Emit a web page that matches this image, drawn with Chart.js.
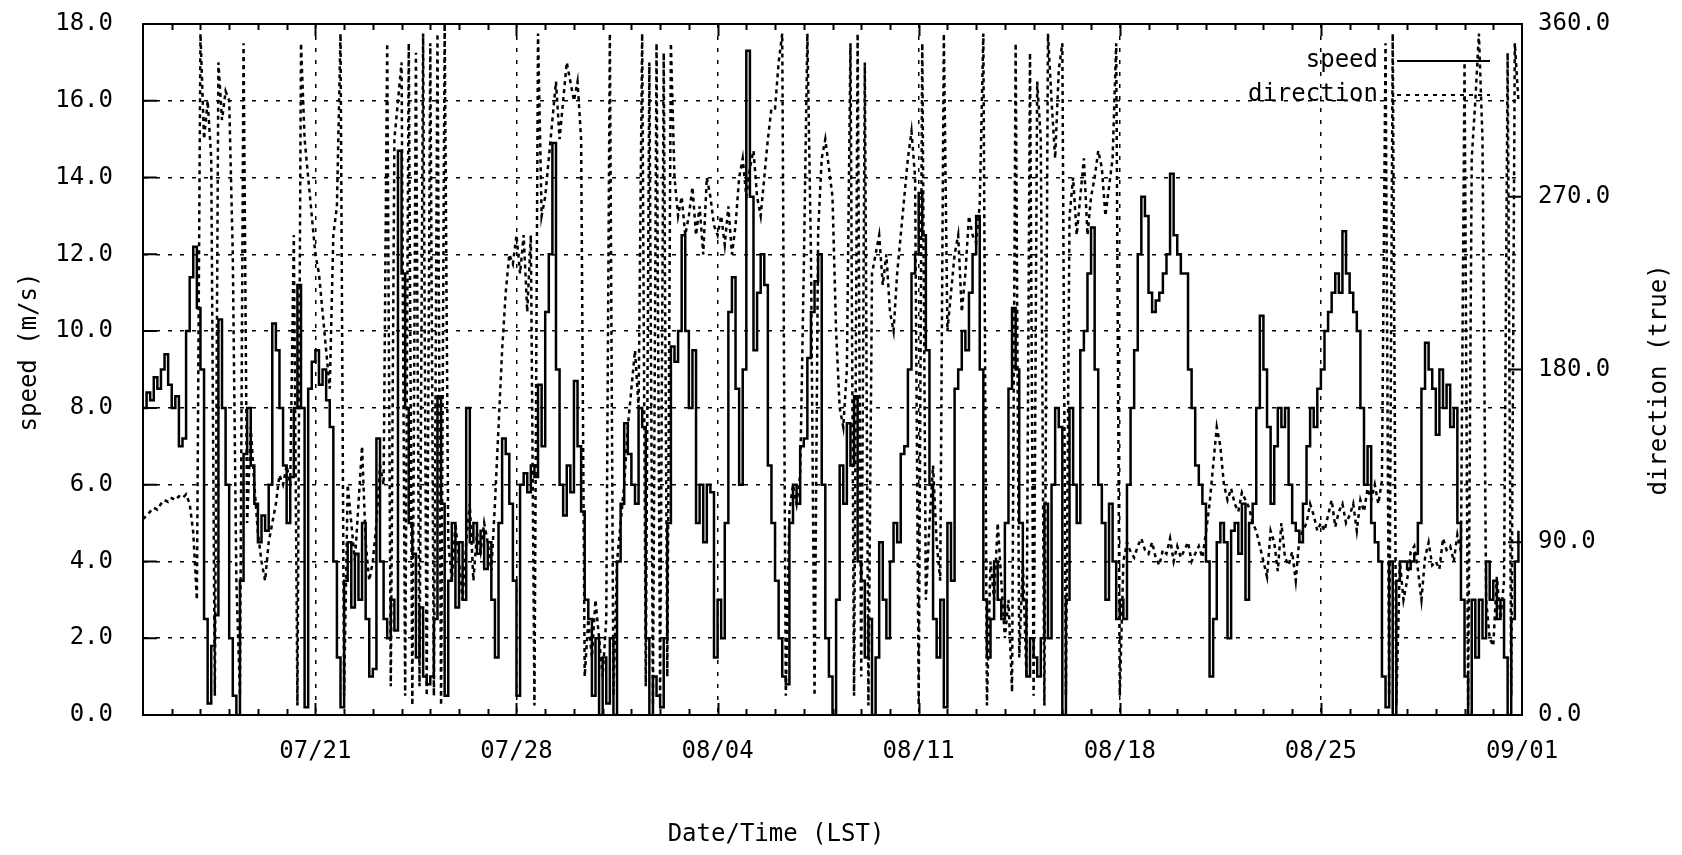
<!DOCTYPE html>
<html>
<head>
<meta charset="utf-8">
<title>speed / direction</title>
<script src="https://cdn.jsdelivr.net/npm/chart.js@4.4.0/dist/chart.umd.min.js"></script>
<style>
  html, body { margin: 0; padding: 0; background: #fff; }
</style>
</head>
<body>
<canvas id="windChart" width="1682" height="855"></canvas>
<script>
// 3-hourly readings, one row per day, 07/15 00:00 .. 08/31 21:00
var speed = [
  8.0, 8.4, 8.2, 8.8, 8.5, 9.0, 9.4, 8.6,
  8.0, 8.3, 7.0, 7.2, 10.0, 11.4, 12.2, 10.6,
  9.0, 2.5, 0.3, 1.8, 2.6, 10.3, 8.0, 6.0,
  2.0, 0.5, 0.0, 3.5, 6.8, 8.0, 6.5, 5.5,
  4.5, 5.2, 4.8, 6.0, 10.2, 9.5, 8.0, 6.5,
  5.0, 6.2, 8.0, 11.2, 8.0, 0.2, 8.5, 9.2,
  9.5, 8.6, 9.0, 8.2, 7.5, 4.0, 1.5, 0.2,
  3.5, 4.5, 2.8, 4.2, 3.0, 5.0, 2.5, 1.0,
  1.2, 7.2, 4.0, 2.5, 2.0, 3.0, 2.2, 14.7,
  11.5, 8.0, 5.0, 4.2, 1.5, 2.8, 1.0, 0.8,
  1.0, 2.5, 8.3, 5.5, 0.5, 3.5, 5.0, 2.8,
  4.5, 3.0, 8.0, 4.5, 5.0, 4.2, 4.8, 3.8,
  4.5, 3.0, 1.5, 5.0, 7.2, 6.8, 5.5, 3.5,
  0.5, 6.0, 6.3, 5.8, 6.5, 6.2, 8.6, 7.0,
  10.5, 12.0, 14.9, 9.0, 6.0, 5.2, 6.5, 5.8,
  8.7, 7.0, 5.3, 3.0, 2.5, 0.5, 2.0, 0.0,
  1.5, 0.3, 2.0, 0.0, 4.0, 5.5, 7.6, 6.8,
  6.0, 5.5, 8.0, 7.5, 2.0, 0.0, 1.0, 0.5,
  0.2, 2.0, 5.0, 9.6, 9.2, 10.0, 12.5, 10.0,
  8.0, 9.5, 5.0, 6.0, 4.5, 6.0, 5.8, 1.5,
  3.0, 2.0, 5.0, 10.5, 11.4, 8.5, 6.0, 9.0,
  17.3, 13.5, 9.5, 11.0, 12.0, 11.2, 6.5, 5.0,
  3.5, 2.0, 1.0, 0.8, 5.0, 6.0, 5.5, 7.0,
  7.2, 9.3, 10.5, 11.3, 12.0, 6.0, 2.0, 1.0,
  0.0, 3.0, 6.5, 5.5, 7.6, 6.5, 8.3, 4.0,
  3.5, 1.5, 2.5, 0.0, 1.5, 4.5, 3.0, 2.0,
  4.0, 5.0, 4.5, 6.8, 7.0, 9.0, 11.5, 12.0,
  13.6, 12.5, 9.5, 6.0, 2.5, 1.5, 3.0, 0.2,
  5.0, 3.5, 8.5, 9.0, 10.0, 9.5, 11.0, 12.0,
  13.0, 9.0, 3.0, 1.5, 2.5, 4.0, 3.0, 2.5,
  5.0, 8.5, 10.6, 9.0, 5.0, 3.0, 1.0, 2.0,
  1.5, 1.0, 2.0, 5.5, 2.0, 6.0, 8.0, 7.5,
  0.0, 3.0, 8.0, 6.0, 5.0, 9.5, 10.0, 11.5,
  12.7, 9.0, 6.0, 5.0, 3.0, 5.5, 4.0, 2.5,
  3.0, 2.5, 6.0, 8.0, 9.5, 12.0, 13.5, 13.0,
  11.0, 10.5, 10.8, 11.0, 11.5, 12.0, 14.1, 12.5,
  12.0, 11.5, 11.5, 9.0, 8.0, 6.5, 6.0, 5.5,
  4.0, 1.0, 2.5, 4.5, 5.0, 4.5, 2.0, 4.8,
  5.0, 4.2, 5.5, 3.0, 5.0, 5.5, 8.0, 10.4,
  9.0, 7.5, 5.5, 7.0, 8.0, 7.5, 8.0, 6.0,
  5.0, 4.8, 4.5, 5.5, 7.0, 8.0, 7.5, 8.5,
  9.0, 10.0, 10.5, 11.0, 11.5, 11.0, 12.6, 11.5,
  11.0, 10.5, 10.0, 8.0, 6.0, 7.0, 5.0, 4.5,
  4.0, 1.0, 0.2, 4.0, 0.0, 3.5, 4.0, 4.0,
  3.8, 4.0, 4.2, 5.0, 8.5, 9.7, 9.0, 8.5,
  7.3, 9.0, 8.0, 8.6, 7.5, 8.0, 5.0, 3.0,
  1.0, 0.0, 3.0, 1.5, 3.0, 2.0, 4.0, 3.0,
  3.5, 2.5, 3.0, 1.5, 0.0, 2.5, 4.0, 4.8
];

var direction = [
  102, 104, 106, 108, 107, 110, 112, 111,
  113, 112, 114, 113, 115, 110, 95, 60,
  355, 300, 320, 290, 10, 340, 310, 325,
  320, 240, 70, 10, 350, 100, 150, 120,
  95, 80, 70, 90, 100, 110, 125, 120,
  130, 120, 250, 5, 350, 300, 280, 260,
  240, 230, 210, 190, 170, 250, 265, 355,
  10, 120, 100, 80, 110, 140, 90, 70,
  80, 100, 130, 120, 350, 15, 300, 320,
  340, 10, 350, 5, 345, 15, 355, 10,
  350, 10, 355, 5, 360, 90, 70, 100,
  80, 60, 90, 110, 70, 95, 85, 100,
  90, 75, 110, 150, 190, 220, 240, 235,
  250, 230, 250, 210, 250, 5, 355, 260,
  270, 290, 310, 330, 300, 320, 340, 330,
  320, 330, 300, 20, 50, 30, 60, 40,
  20, 50, 355, 10, 80, 100, 120, 150,
  170, 190, 160, 355, 15, 340, 5, 350,
  10, 345, 20, 350, 280, 260, 270, 250,
  260, 275, 250, 265, 240, 280, 270, 255,
  250, 260, 245, 265, 240, 255, 280, 290,
  270, 285, 294, 270, 260, 280, 300, 316,
  316, 340, 355, 10, 106, 120, 110, 125,
  232, 355, 240, 10, 252, 290, 300, 285,
  270, 200, 160, 150, 180, 350, 10, 355,
  20, 340, 5, 230, 240, 250, 224, 240,
  210, 200, 230, 250, 270, 290, 304, 280,
  5, 350, 60, 100, 130, 90, 70, 355,
  200, 220, 240, 250, 210, 230, 260, 250,
  246, 266, 355, 5, 80, 60, 100, 70,
  40, 60, 12, 350, 30, 80, 20, 345,
  10, 330, 300, 5, 355, 320, 290, 336,
  350, 10, 260, 280, 250, 270, 290, 250,
  270, 280, 294, 285, 260, 275, 290, 350,
  10, 80, 90, 85, 82, 88, 92, 86,
  84, 90, 82, 78, 86, 84, 92, 80,
  88, 82, 86, 90, 80, 84, 88, 82,
  95, 110, 130, 150, 140, 120, 112, 118,
  110, 106, 116, 112, 108, 100, 96, 88,
  80, 72, 96, 90, 75, 100, 82, 78,
  85, 70, 92, 96, 100, 110, 104, 96,
  100, 96, 104, 112, 98, 106, 110, 100,
  104, 110, 96, 112, 106, 118, 112, 120,
  110, 122, 350, 10, 355, 5, 80, 60,
  70, 85, 88, 76, 60, 82, 90, 78,
  80, 76, 92, 86, 88, 80, 94, 85,
  340, 5, 290, 320, 355, 300, 60, 40,
  36, 72, 50, 70, 345, 10, 350, 320
];

var tickDays = [6, 13, 20, 27, 34, 41, 48];   // days after 07/15 00:00
var tickLabels = ['07/21', '07/28', '08/04', '08/11', '08/18', '08/25', '09/01'];
var stepDays = 3 / 24;
var totalDays = 48;

var font = 'DejaVu Sans Mono';

function points(values) {
  return values.map(function(v, i) { return { x: i * stepDays, y: v }; });
}

// keep the label padding from pushing the plot box down
function fixWidth(w) {
  return function(scale) {
    scale.width = w;
    scale.paddingTop = 0;
    scale.paddingBottom = 0;
  };
}

// box, inward tick marks, axis titles and key
var frame = {
  id: 'frame',
  afterDraw: function(chart) {
    var ctx = chart.ctx;
    var a = chart.chartArea;
    var xs = chart.scales.x, ys = chart.scales.y, y2 = chart.scales.y1;
    ctx.save();
    ctx.strokeStyle = '#000';
    ctx.fillStyle = '#000';
    ctx.lineWidth = 2;
    ctx.strokeRect(a.left, a.top, a.right - a.left, a.bottom - a.top);

    ctx.beginPath();
    for (var d = 1; d < totalDays; d++) {
      var px = Math.round(xs.getPixelForValue(d)) + 0.5;
      var len = tickDays.indexOf(d) >= 0 ? 12 : 6;
      ctx.moveTo(px, a.bottom); ctx.lineTo(px, a.bottom - len);
      ctx.moveTo(px, a.top); ctx.lineTo(px, a.top + len);
    }
    ys.ticks.forEach(function(t) {
      var py = ys.getPixelForValue(t.value);
      ctx.moveTo(a.left, py); ctx.lineTo(a.left + 14, py);
    });
    y2.ticks.forEach(function(t) {
      var py = y2.getPixelForValue(t.value);
      ctx.moveTo(a.right, py); ctx.lineTo(a.right - 14, py);
    });
    ctx.stroke();

    ctx.font = '24px "' + font + '"';
    ctx.textAlign = 'center';
    ctx.textBaseline = 'middle';
    ctx.fillText('Date/Time (LST)', 776, 835);

    ctx.save();
    ctx.translate(30, 352);
    ctx.rotate(-Math.PI / 2);
    ctx.fillText('speed (m/s)', 0, 0);
    ctx.restore();

    ctx.save();
    ctx.translate(1660, 380);
    ctx.rotate(-Math.PI / 2);
    ctx.fillText('direction (true)', 0, 0);
    ctx.restore();

    // key, top right
    ctx.textAlign = 'right';
    ctx.fillText('speed', 1378, 61);
    ctx.fillText('direction', 1378, 95);
    ctx.lineWidth = 2;
    ctx.beginPath();
    ctx.moveTo(1397, 61); ctx.lineTo(1490, 61);
    ctx.stroke();
    ctx.setLineDash([4, 5]);
    ctx.beginPath();
    ctx.moveTo(1397, 95); ctx.lineTo(1490, 95);
    ctx.stroke();
    ctx.restore();
  }
};

var ctx = document.getElementById('windChart').getContext('2d');
new Chart(ctx, {
  type: 'line',
  data: {
    datasets: [{
      label: 'speed',
      data: points(speed),
      yAxisID: 'y',
      borderColor: '#000',
      borderWidth: 2.5,
      stepped: true,
      pointRadius: 0,
      fill: false
    }, {
      label: 'direction',
      data: points(direction),
      yAxisID: 'y1',
      borderColor: '#000',
      borderWidth: 2.5,
      borderDash: [4, 4],
      pointRadius: 0,
      tension: 0,
      fill: false
    }]
  },
  options: {
    responsive: false,
    animation: false,
    layout: { padding: { top: 24, left: 0, right: 0, bottom: 0 } },
    plugins: {
      legend: { display: false },
      tooltip: { enabled: false }
    },
    scales: {
      x: {
        type: 'linear',
        min: 0,
        max: totalDays,
        afterBuildTicks: function(scale) {
          scale.ticks = tickDays.map(function(v) { return { value: v }; });
        },
        afterFit: function(scale) { scale.height = 140; },
        ticks: {
          autoSkip: false,
          maxRotation: 0,
          padding: 22,
          color: '#000',
          font: { family: font, size: 24 },
          callback: function(v) { return tickLabels[tickDays.indexOf(v)]; }
        },
        grid: { color: '#000', lineWidth: 1.5, drawTicks: false },
        border: { display: true, color: '#000', width: 2, dash: [4, 8] }
      },
      y: {
        position: 'left',
        min: 0,
        max: 18,
        afterFit: fixWidth(143),
        ticks: {
          stepSize: 2,
          padding: 30,
          color: '#000',
          font: { family: font, size: 24 },
          callback: function(v) { return v.toFixed(1); }
        },
        grid: { color: '#000', lineWidth: 1.5, drawTicks: false },
        border: { display: true, color: '#000', width: 2, dash: [4, 8] }
      },
      y1: {
        position: 'right',
        min: 0,
        max: 360,
        afterFit: fixWidth(160),
        ticks: {
          stepSize: 90,
          padding: 16,
          color: '#000',
          font: { family: font, size: 24 },
          callback: function(v) { return v.toFixed(1); }
        },
        grid: { drawOnChartArea: false, drawTicks: false },
        border: { display: true, color: '#000', width: 2 }
      }
    }
  },
  plugins: [frame]
});
</script>
</body>
</html>
